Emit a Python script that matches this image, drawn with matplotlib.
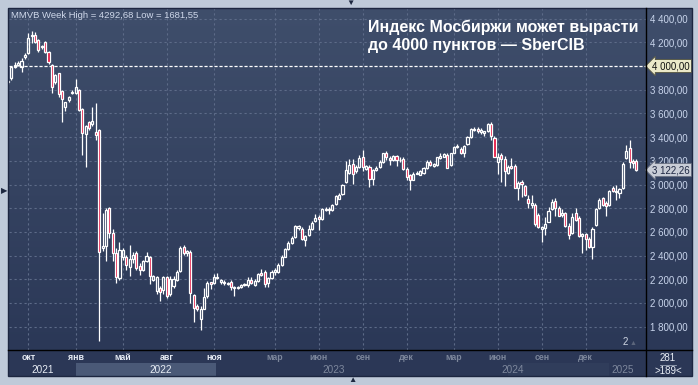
import numpy as np
import matplotlib
matplotlib.use("Agg")
from matplotlib import pyplot as plt
from matplotlib.patches import Rectangle
from matplotlib.lines import Line2D

plt.rcParams['font.family'] = ['Liberation Sans', 'DejaVu Sans']

# weekly candles, MMVB index
opens = [3862, 3896, 3995, 4009, 3995, 4073, 4107, 4250, 4261, 4219, 4157, 4205, 4120, 4008, 3868, 3938,
         3792, 3657, 3713, 3770, 3770, 3798, 3635, 3424, 3525, 3508, 3441, 3458, 2464, 2478, 2801, 2590,
         2422, 2212, 2388, 2388, 2304, 2374, 2422, 2316, 2282, 2352, 2388, 2198, 2100, 2128, 2106, 2218,
         2072, 2142, 2192, 2268, 2470, 2422, 2430, 2066, 1974, 1868, 1952, 2058, 2176, 2166, 2223,
         2180, 2180, 2160, 2180, 2124, 2130, 2138, 2152, 2152, 2194, 2152, 2189, 2256, 2259, 2166, 2208,
         2265, 2265, 2321, 2392, 2454, 2510, 2561, 2631, 2626, 2533, 2575, 2626, 2688, 2726,
         2706, 2796, 2782, 2788, 2833, 2881, 2923, 3022, 3098, 3169, 3112, 3149, 3233, 3135, 3149, 3050,
         3121, 3149, 3191, 3270, 3225, 3205, 3239, 3205, 3219, 3129, 3078, 3042, 3092, 3081, 3095,
         3138, 3189, 3157, 3166, 3222, 3236, 3251, 3166, 3270, 3313, 3301, 3265, 3341, 3400, 3456, 3468,
         3442, 3439, 3448, 3513, 3392, 3186, 3245, 3217, 3095, 3157, 3157, 2969, 3025, 2988,
         2875, 2828, 2828, 2743, 2622, 2630, 2687, 2791, 2864, 2799, 2743, 2757, 2650, 2588, 2757, 2720,
         2565, 2579, 2540, 2475, 2658, 2799, 2884, 2847, 2828, 2969, 2940, 2932, 2974, 3222, 3307, 3199,
         3199]
highs = [3880, 4000, 4036, 4042, 4065, 4110, 4275, 4293, 4285, 4230, 4180, 4215, 4130, 4015, 3935, 3945,
         3800, 3700, 3745, 3795, 3887, 3810, 3650, 3500, 3540, 3657, 3685, 3470, 2759, 2800, 2810, 2624,
         2464, 2512, 2464, 2408, 2492, 2430, 2436, 2338, 2366, 2428, 2400, 2240, 2226, 2142, 2226, 2226,
         2226, 2226, 2282, 2478, 2492, 2450, 2444, 2072, 1988, 1974, 2128, 2184, 2180, 2245, 2251,
         2206, 2194, 2180, 2194, 2144, 2145, 2160, 2170, 2223, 2223, 2200, 2251, 2285, 2279, 2220, 2279,
         2293, 2335, 2406, 2462, 2519, 2566, 2660, 2660, 2640, 2575, 2660, 2688, 2753, 2740,
         2805, 2810, 2810, 2838, 2915, 2929, 3008, 3197, 3219, 3219, 3163, 3247, 3290, 3163, 3163, 3135,
         3154, 3205, 3270, 3284, 3239, 3253, 3247, 3228, 3233, 3149, 3085, 3106, 3112, 3120, 3152,
         3203, 3203, 3178, 3236, 3265, 3270, 3265, 3270, 3327, 3344, 3313, 3335, 3411, 3476, 3485, 3485,
         3476, 3455, 3518, 3524, 3406, 3265, 3265, 3237, 3166, 3222, 3174, 3033, 3039, 2998,
         2912, 2912, 2842, 2757, 2650, 2723, 2808, 2878, 2884, 2819, 2791, 2771, 2672, 2757, 2799, 2734,
         2594, 2588, 2560, 2639, 2800, 2884, 2898, 2861, 2955, 2988, 2997, 2974, 3186, 3335, 3377, 3214,
         3214]
lows = [3850, 3885, 3980, 4000, 3952, 4060, 4098, 4191, 4195, 4115, 4140, 4110, 4020, 3775, 3850, 3740,
        3531, 3621, 3700, 3760, 3760, 3620, 3250, 3152, 3460, 3495, 3377, 1682, 2436, 2352, 2550, 2352,
        2170, 2195, 2365, 2282, 2226, 2340, 2282, 2240, 2268, 2345, 2164, 2185, 2072, 2016, 2078, 2044,
        2058, 2130, 2184, 2260, 2408, 2394, 2002, 1840, 1932, 1772, 1946, 2044, 2115, 2160, 2203,
        2160, 2152, 2150, 2110, 2062, 2122, 2130, 2145, 2138, 2160, 2145, 2180, 2228, 2138, 2138, 2200,
        2237, 2255, 2315, 2385, 2445, 2500, 2550, 2617, 2533, 2477, 2565, 2620, 2680, 2619,
        2700, 2775, 2754, 2780, 2825, 2875, 2915, 3015, 3090, 3008, 3098, 3140, 3112, 3126, 2980, 2994,
        3112, 3140, 3185, 3205, 3168, 3198, 3154, 3191, 3126, 3036, 2957, 3036, 3085, 3078, 3090,
        3130, 3160, 3150, 3160, 3215, 3230, 3138, 3160, 3265, 3305, 3259, 3231, 3335, 3395, 3448, 3434,
        3428, 3411, 3440, 3377, 3230, 3087, 3025, 2988, 3090, 3130, 2969, 2870, 2898, 2905,
        2799, 2799, 2650, 2630, 2512, 2574, 2680, 2785, 2734, 2730, 2728, 2645, 2537, 2580, 2690, 2554,
        2419, 2447, 2460, 2368, 2650, 2790, 2820, 2737, 2820, 2940, 2870, 2884, 2965, 3215, 3143, 3143,
        3110]
closes = [3870, 3994, 4009, 4028, 4042, 4093, 4239, 4266, 4205, 4135, 4168, 4120, 4031, 3826, 3924, 3761,
          3722, 3694, 3736, 3784, 3826, 3629, 3433, 3494, 3475, 3539, 3419, 2428, 2484, 2787, 2591, 2422,
          2220, 2450, 2450, 2324, 2374, 2408, 2296, 2282, 2352, 2400, 2226, 2226, 2220, 2092, 2218, 2058,
          2204, 2204, 2262, 2464, 2422, 2436, 2086, 1960, 1952, 1952, 2050, 2170, 2156, 2223, 2208,
          2194, 2166, 2172, 2132, 2138, 2138, 2152, 2160, 2194, 2166, 2189, 2245, 2237, 2160, 2214, 2265,
          2279, 2321, 2392, 2454, 2505, 2552, 2646, 2646, 2539, 2567, 2626, 2679, 2716, 2706,
          2791, 2782, 2796, 2824, 2901, 2915, 3000, 3126, 3163, 3092, 3149, 3225, 3149, 3154, 3050, 3121,
          3140, 3191, 3262, 3228, 3205, 3239, 3205, 3211, 3135, 3064, 3036, 3092, 3098, 3115, 3143,
          3194, 3166, 3172, 3228, 3242, 3256, 3143, 3265, 3313, 3327, 3265, 3327, 3400, 3470, 3470, 3448,
          3456, 3448, 3510, 3406, 3236, 3231, 3214, 3110, 3146, 3138, 2974, 3016, 3005, 2912,
          2847, 2842, 2667, 2639, 2639, 2667, 2780, 2856, 2799, 2737, 2757, 2653, 2574, 2729, 2701, 2565,
          2582, 2537, 2475, 2625, 2791, 2870, 2828, 2819, 2946, 2946, 2949, 2963, 3174, 3284, 3188, 3180,
          3122.26]

month_pos = [6, 20, 34, 47, 61, 79, 92, 105, 118, 132, 145, 158, 171]
month_labels = ["окт", "янв", "май", "авг", "ноя", "мар", "июн", "сен", "дек", "мар", "июн", "сен", "дек"]
year_pos = [10.4, 45.3, 96.5, 149.5, 182]
year_labels = ["2021", "2022", "2023", "2024", "2025"]
y_ticks = list(range(1800, 4401, 200))
target_level = 4000

W, H = 698, 385


def rect(x0, y0, x1, y1):
    return [x0 / W, 1 - y1 / H, (x1 - x0) / W, (y1 - y0) / H]


def rub(v):
    return f"{v:,.2f}".replace(",", " ").replace(".", ",")


fig = plt.figure(figsize=(W / 100, H / 100), dpi=100)
fig.patch.set_facecolor('#bfcad9')

# dark panel with gradient
bg = fig.add_axes(rect(8, 8, 692, 350))
top = np.array([63, 78, 107]) / 255
bot = np.array([43, 56, 87]) / 255
t = np.linspace(0, 1, 256)[:, None, None]
bg.imshow(top + (bot - top) * t, aspect='auto', extent=[0, 1, 0, 1])
bg.axis('off')

# bottom time panel
tb = fig.add_axes(rect(8, 350, 692, 376))
tb.set_facecolor('#2b3756')
tb.set_xticks([]); tb.set_yticks([])
for s in tb.spines.values():
    s.set_visible(False)

# main chart
ax = fig.add_axes(rect(9, 8, 645.5, 350))
ax.patch.set_alpha(0)
xlim = (0.3, 188.7)
ax.set_xlim(*xlim)
ax.set_ylim(1603, 4490)

o = np.array(opens, float); h = np.array(highs, float)
l = np.array(lows, float); c = np.array(closes, float)
x = np.arange(len(c))
up = c >= o
body_lo = np.minimum(o, c)
body_hi = np.maximum(o, c)
ax.vlines(x, body_hi, h, color='white', lw=0.9, zorder=3)
ax.vlines(x, l, body_lo, color='white', lw=0.9, zorder=3)
ax.bar(x, body_hi - body_lo, bottom=body_lo, width=0.62,
       color=['none' if u else '#e3123e' for u in up],
       edgecolor='white', linewidth=0.9, zorder=4)

ax.axhline(target_level, color='white', lw=0.9, ls=(0, (2.5, 1.5)), zorder=2)

ax.set_xticks(month_pos)
ax.set_yticks(y_ticks)
ax.grid(color='#5d6b88', ls=(0, (2, 2.5)), lw=0.8, zorder=1)
ax.yaxis.tick_right()
# the 4000 level has its own marker box instead of a plain label
ax.set_yticklabels(["" if v == target_level else rub(v) for v in y_ticks])
ax.tick_params(axis='x', length=0, labelbottom=False)
ax.tick_params(axis='y', length=0, pad=3, labelsize=7, labelcolor='#c9d5ec')
for s in ax.spines.values():
    s.set_visible(False)

# level labels on the price scale
ax.annotate(rub(target_level), xy=(1, target_level), xycoords=('axes fraction', 'data'),
            xytext=(5, 0), textcoords='offset points', ha='left', va='center',
            fontsize=7, color='#111111', zorder=10, annotation_clip=False,
            bbox=dict(boxstyle='larrow,pad=0.15', fc='#ebe9c9', ec='#55553f', lw=0.6))
ax.annotate(rub(closes[-1]), xy=(1, closes[-1]), xycoords=('axes fraction', 'data'),
            xytext=(5, 0), textcoords='offset points', ha='left', va='center',
            fontsize=7, color='#1c2540', zorder=10, annotation_clip=False,
            bbox=dict(boxstyle='larrow,pad=0.15', fc='#c9cdd6', ec='#6b7182', lw=0.6))

# time axis labels
bx = fig.add_axes(rect(9, 350, 645.5, 376))
bx.patch.set_alpha(0)
bx.set_xlim(*xlim); bx.set_ylim(0, 1)
bx.axis('off')
bx.add_patch(Rectangle((20.1, 0), 41.5, 0.5, color='#4a5977', lw=0))
bx.add_patch(Rectangle((148, 0), 30, 0.5, color='#303d5b', lw=0))
split = 61.6
for p, lab in zip(month_pos, month_labels):
    bx.text(p, 0.7, lab, ha='center', va='center', fontsize=6.3, fontweight='bold',
            color='#e8edf5' if p < split else '#7d879c')
for p, lab in zip(year_pos, year_labels):
    bx.text(p, 0.24, lab, ha='center', va='center', fontsize=7.2,
            color='#e8edf5' if p < split else '#7d879c')

# frame lines
fig.add_artist(Line2D([645.5 / W] * 2, [1 - 8 / H, 1 - 376 / H], color='black', lw=1))
fig.add_artist(Line2D([8 / W, 692 / W], [1 - 350 / H] * 2, color='black', lw=1))
fig.add_artist(Rectangle((8 / W, 1 - 376 / H), 684 / W, 368 / H, fill=False,
                         ec='#1c2640', lw=1, transform=fig.transFigure))

# texts
fig.text(11 / W, 1 - 18 / H, "MMVB Week High = 4292,68 Low = 1681,55",
         fontsize=6.8, color='#cfd8ea')
fig.text(368 / W, 1 - 32 / H, "Индекс Мосбиржи может вырасти",
         fontsize=11.5, fontweight='bold', color='white')
fig.text(368 / W, 1 - 50 / H, "до 4000 пунктов — SberCIB",
         fontsize=11.5, fontweight='bold', color='white')
fig.text(625 / W, 1 - 345 / H, "2", fontsize=7, color='#d0d7e4', ha='center', va='baseline')
fig.text(633 / W, 1 - 345 / H, "▲", fontsize=5, color='#5c667c', ha='center', va='baseline')
fig.text(668 / W, 1 - 358 / H, "281", fontsize=7, color='#e8edf5', ha='center', va='center')
fig.add_artist(Line2D([660 / W, 676 / W], [1 - 364.5 / H] * 2, color='#9aa4b8', lw=0.6))
fig.text(668 / W, 1 - 371 / H, ">189<", fontsize=7, color='#e8edf5', ha='center', va='center')
fig.text(350 / W, 1 - 3 / H, "▼", fontsize=6, color='#1d2840', ha='center', va='center')
fig.text(4 / W, 1 - 192 / H, "▶", fontsize=6, color='#1d2840', ha='center', va='center')
fig.text(352 / W, 1 - 381 / H, "▲", fontsize=6, color='#1d2840', ha='center', va='center')

fig.savefig("out.png", dpi=100, facecolor=fig.get_facecolor())
